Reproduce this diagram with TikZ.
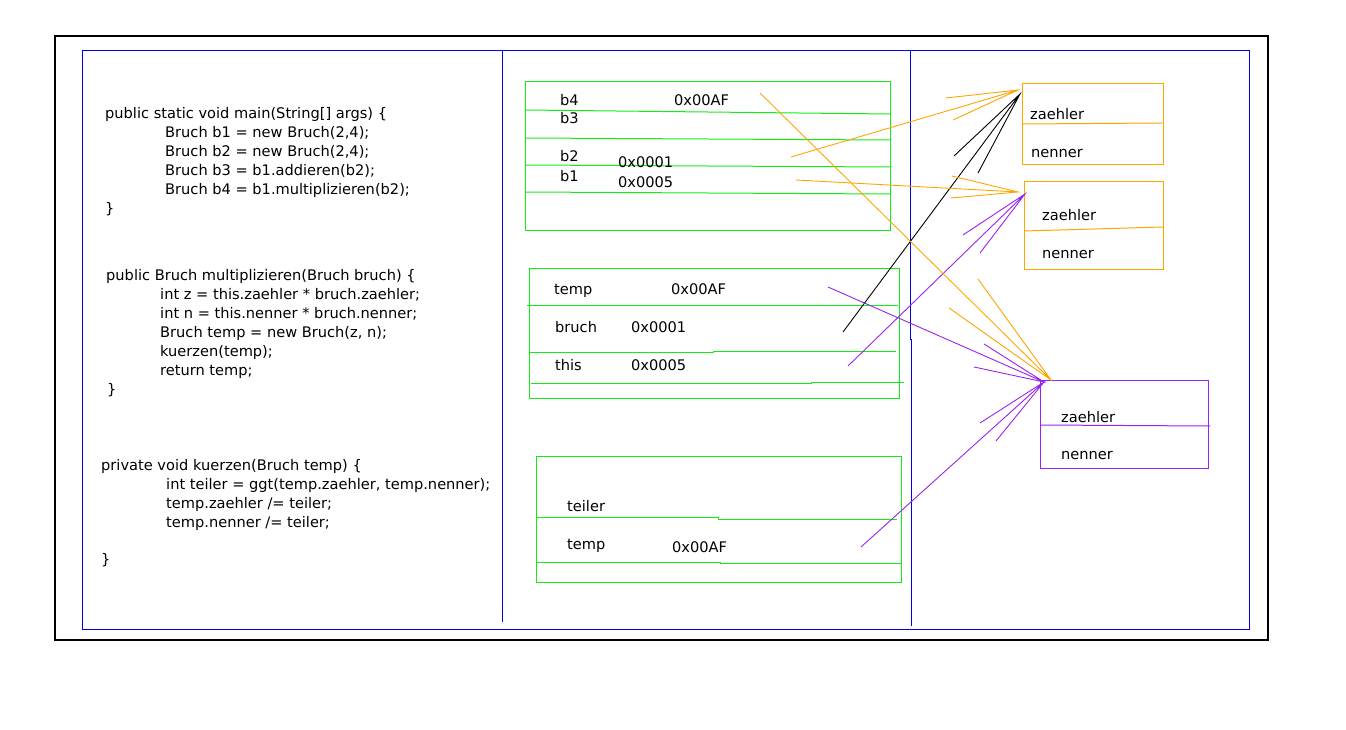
\documentclass[tikz,border=0pt]{standalone}
\usepackage{fontspec}
\setmainfont{DejaVu Sans}
\definecolor{fgreen}{RGB}{20,235,20}
\definecolor{forange}{RGB}{255,165,0}
\definecolor{fpurple}{RGB}{155,35,240}
\definecolor{fblue}{RGB}{0,0,235}
\tikzset{
  txt/.style={anchor=base west, inner sep=0pt, font=\fontsize{14.6}{19}\selectfont, text=black},
  gframe/.style={draw=fgreen, line width=1pt},
  gline/.style={draw=fgreen, line width=1pt},
  oframe/.style={draw=forange, line width=1pt},
  pframe/.style={draw=fpurple, line width=1pt},
  oarr/.style={draw=forange, line width=0.9pt},
  parr/.style={draw=fpurple, line width=0.9pt},
  karr/.style={draw=black, line width=0.9pt},
}
\begin{document}
\begin{tikzpicture}[x=1pt,y=-1pt]
\useasboundingbox (0,0) rectangle (1346,730);
% frames
\draw[line width=1.4pt] (55,36) rectangle (1268,640);
\draw[fblue, line width=1pt] (82,51) rectangle (1249,629);
\draw[fblue, line width=1pt] (502,51) -- (502,622);
\draw[fblue, line width=1pt] (910,51) -- (910,339) -- (911,339) -- (911,626);

% code block 1
\node[txt] (m1) at (105,119) {public static void main(String[] args) \{};
\node[txt] (m2) at (165,138) {Bruch b1 = new Bruch(2,4);};
\node[txt] (m3) at (165,157) {Bruch b2 = new Bruch(2,4);};
\node[txt] (m4) at (165,176) {Bruch b3 = b1.addieren(b2);};
\node[txt] (m5) at (165,195) {Bruch b4 = b1.multiplizieren(b2);};
\node[txt] (m6) at (105,214) {\}};
% code block 2
\node[txt] (p1) at (106,280) {public Bruch multiplizieren(Bruch bruch) \{};
\node[txt] (p2) at (160,299) {int z = this.zaehler * bruch.zaehler;};
\node[txt] (p3) at (160,318) {int n = this.nenner * bruch.nenner;};
\node[txt] (p4) at (160,337) {Bruch temp = new Bruch(z, n);};
\node[txt] (p5) at (160,356) {kuerzen(temp);};
\node[txt] (p6) at (160,375) {return temp;};
\node[txt] (p7) at (107,394) {\}};
% code block 3
\node[txt] (k1) at (101,470) {private void kuerzen(Bruch temp) \{};
\node[txt] (k2) at (166,489) {int teiler = ggt(temp.zaehler, temp.nenner);};
\node[txt] (k3) at (166,508) {temp.zaehler /= teiler;};
\node[txt] (k4) at (166,527) {temp.nenner /= teiler;};
\node[txt] (k5) at (101,564) {\}};

% stack frame main
\draw[gframe] (525,82) rectangle (890,230);
\draw[gline] (525,110) -- (890,114);
\draw[gline] (525,138) -- (890,140);
\draw[gline] (525,165) -- (890,167);
\draw[gline] (525,192) -- (890,194);
\node[txt] (b4) at (560,106) {b4};
\node[txt] (b4v) at (674,106) {0x00AF};
\node[txt] (b3) at (560,124) {b3};
\node[txt] (b2) at (560,162) {b2};
\node[txt] (b2v) at (618,168) {0x0001};
\node[txt] (b1) at (560,182) {b1};
\node[txt] (b1v) at (618,188) {0x0005};

% stack frame multiplizieren
\draw[gframe] (529,268) rectangle (899,398);
\draw[gline] (527,305) -- (898,305);
\draw[gline] (529,352) -- (713,352) -- (713,351) -- (896,351);
\draw[gline] (531,383) -- (811,383) -- (811,382) -- (904,382);
\node[txt] (tmp) at (554,294) {temp};
\node[txt] (tmpv) at (671,294) {0x00AF};
\node[txt] (br) at (555,332) {bruch};
\node[txt] (brv) at (631,332) {0x0001};
\node[txt] (th) at (555,370) {this};
\node[txt] (thv) at (631,370) {0x0005};

% stack frame kuerzen
\draw[gframe] (536,456) rectangle (901,582);
\draw[gline] (536,517) -- (718,517) -- (718,519) -- (897,519);
\draw[gline] (537,562) -- (720,562) -- (720,563) -- (901,563);
\node[txt] (te) at (567,511) {teiler};
\node[txt] (kt) at (567,549) {temp};
\node[txt] (ktv) at (672,552) {0x00AF};

% heap objects
\draw[oframe] (1022,84) rectangle (1163,165);
\draw[oframe] (1022,124) -- (1162,123);
\node[txt] (o1z) at (1030,120) {zaehler};
\node[txt] (o1n) at (1031,158) {nenner};

\draw[oframe] (1024,182) rectangle (1163,269);
\draw[oframe] (1024,231) -- (1163,227);
\node[txt] (o2z) at (1042,221) {zaehler};
\node[txt] (o2n) at (1042,258) {nenner};

\draw[pframe] (1040,380) rectangle (1208,468);
\draw[pframe] (1040,425) -- (1210,426);
\node[txt] (o3z) at (1061,422) {zaehler};
\node[txt] (o3n) at (1061,459) {nenner};

% reference arrows
\coordinate (sA) at (791,157);  \coordinate (tA) at (1018,90);
\coordinate (hA1) at (946,98);  \coordinate (hA2) at (953,120);
\draw[oarr] (sA) -- (tA) (hA1) -- (tA) -- (hA2);

\coordinate (sB) at (843,332);  \coordinate (tB) at (1020,94);
\coordinate (hB1) at (954,156); \coordinate (hB2) at (978,173);
\draw[karr] (sB) -- (tB) (hB1) -- (tB) -- (hB2);

\coordinate (sC) at (796,180);  \coordinate (tC) at (1018,192);
\coordinate (hC1) at (952,176); \coordinate (hC2) at (951,198);
\draw[oarr] (sC) -- (tC) (hC1) -- (tC) -- (hC2);

\coordinate (sD) at (848,366);  \coordinate (tD) at (1025,194);
\coordinate (hD1) at (963,235); \coordinate (hD2) at (980,253);
\draw[parr] (sD) -- (tD) (hD1) -- (tD) -- (hD2);

\coordinate (sE) at (760,93);   \coordinate (tE) at (1051,380);
\coordinate (hE1) at (978,279); \coordinate (hE2) at (949,308);
\draw[oarr] (sE) -- (tE) (hE1) -- (tE) -- (hE2);

\coordinate (sF) at (828,287);  \coordinate (tF) at (1044,382);
\coordinate (hF1) at (984,344); \coordinate (hF2) at (974,367);
\draw[parr] (sF) -- (tF) (hF1) -- (tF) -- (hF2);

\coordinate (sG) at (861,547);  \coordinate (tG) at (1044,382);
\coordinate (hG1) at (980,423); \coordinate (hG2) at (996,441);
\draw[parr] (sG) -- (tG) (hG1) -- (tG) -- (hG2);
\end{tikzpicture}
\end{document}
